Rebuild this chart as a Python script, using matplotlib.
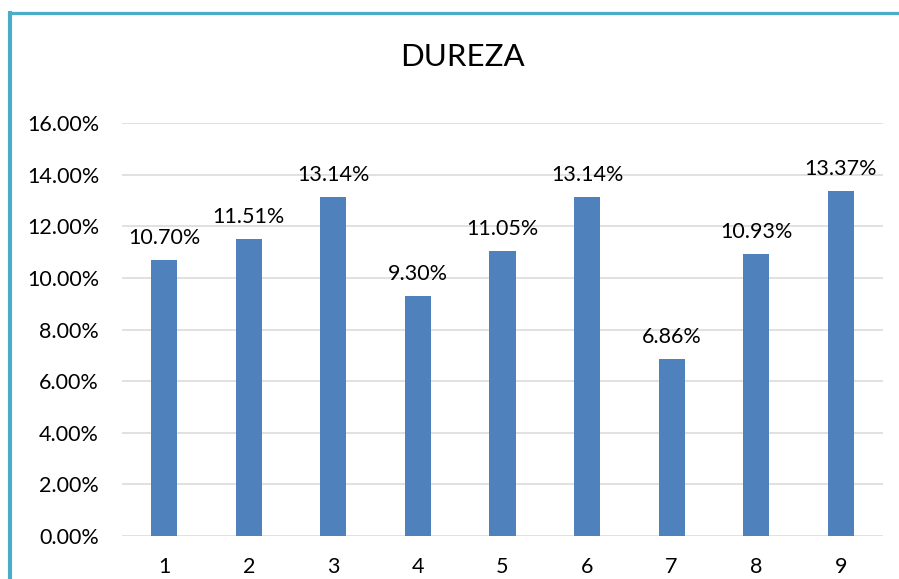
import matplotlib
matplotlib.use('Agg')
import matplotlib.pyplot as plt
from matplotlib.lines import Line2D
from matplotlib.ticker import FuncFormatter

plt.rcParams['font.family'] = ['Lato', 'DejaVu Sans']

# data
categories = ['1', '2', '3', '4', '5', '6', '7', '8', '9']
dureza = [0.1070, 0.1151, 0.1314, 0.0930, 0.1105, 0.1314, 0.0686, 0.1093, 0.1337]

W, H = 899, 579
fig = plt.figure(figsize=(W / 100, H / 100), dpi=100)
ax = fig.add_axes([122 / W, 1 - 536 / H, (883 - 122) / W, (536 - 123) / H])

x = range(len(categories))
bars = ax.bar(x, dureza, width=0.31, color='#4F81BD', zorder=3)

for xi, v in zip(x, dureza):
    ax.text(xi, v + 0.0045, f'{v * 100:.2f}%', ha='center', va='bottom',
            fontsize=15.5, color='#000000')

ax.set_xlim(-0.5, len(categories) - 0.5)
ax.set_ylim(0, 0.16)
ax.set_yticks([i * 0.02 for i in range(9)])
ax.yaxis.set_major_formatter(FuncFormatter(lambda v, p: f'{v * 100:.2f}%'))
ax.set_xticks(list(x))
ax.set_xticklabels(categories)
ax.tick_params(axis='both', length=0, labelsize=15.5, colors='#000000')
ax.tick_params(axis='y', pad=16.5)
ax.tick_params(axis='x', pad=15)
ax.grid(axis='y', color='#D9D9D9', linewidth=1.1, zorder=0)
for s in ax.spines.values():
    s.set_visible(False)

fig.text(462 / W, 1 - 57 / H, 'DUREZA', ha='center', va='center', fontsize=22.5)

# blue frame on left and top
fig.add_artist(Line2D([10 / W, 10 / W], [0, 1 - 11 / H], transform=fig.transFigure,
                      color='#4BACC6', linewidth=3, solid_capstyle='butt'))
fig.add_artist(Line2D([8 / W, 1], [1 - 12.5 / H, 1 - 12.5 / H], transform=fig.transFigure,
                      color='#4BACC6', linewidth=2.3, solid_capstyle='butt'))

fig.savefig('out.png', dpi=100)
